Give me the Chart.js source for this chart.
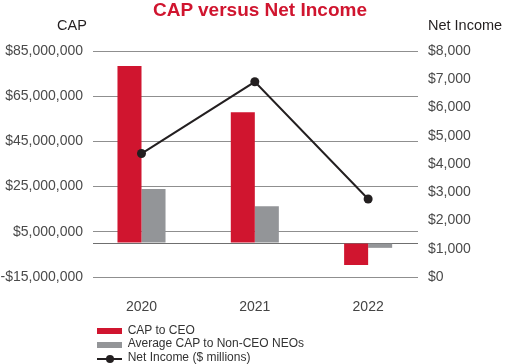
<!DOCTYPE html>
<html>
<head>
<meta charset="utf-8">
<script src="https://cdn.jsdelivr.net/npm/chart.js@4.4.1/dist/chart.umd.min.js"></script>
<style>
  html, body { margin: 0; padding: 0; background: #fff; overflow: hidden; }
  #wrap { position: relative; width: 506px; height: 364px; font-family: "Liberation Sans", Arial, sans-serif; }
  canvas { position: absolute; left: 0; top: 0; }
  .ovl { position: absolute; white-space: nowrap; line-height: 1; }
  #title { left: 10px; width: 500px; top: 0px; text-align: center; color: #d0152f; font-weight: bold; font-size: 19px; }
  #capHead { left: 57px; top: 17.7px; font-size: 14.5px; color: #231f20; }
  #niHead { left: 428px; top: 17.7px; font-size: 14.5px; color: #231f20; }
  #legend { position: absolute; left: 97px; top: 323.5px; font-size: 12px; color: #333; }
  .lrow { position: relative; height: 13.5px; line-height: 13.5px; padding-left: 30.7px; white-space: nowrap; }
  .sw { position: absolute; left: 0; top: 4.5px; width: 25px; height: 6px; }
  .swline { position: absolute; left: 0; top: 7px; width: 25px; height: 2px; }
  .swdot { position: absolute; left: 9px; top: 4px; width: 8px; height: 8px; border-radius: 50%; }
</style>
</head>
<body>
<div id="wrap">
  <canvas id="c" width="506" height="364"></canvas>
  <div class="ovl" id="title">CAP versus Net Income</div>
  <div class="ovl" id="capHead">CAP</div>
  <div class="ovl" id="niHead">Net Income</div>
  <div id="legend"></div>
</div>
<script>
// ---- data ----
const years = ['2020', '2021', '2022'];
const capCEO = [78400000, 57900000, -9700000];
const capNEO = [23900000, 16300000, -2100000];
const netIncome = [4370, 6910, 2760];
const capTicks = [-15000000, 5000000, 25000000, 45000000, 65000000, 85000000];
const niTicks = [0, 1000, 2000, 3000, 4000, 5000, 6000, 7000, 8000];
const seriesLabels = ['CAP to CEO', 'Average CAP to Non-CEO NEOs', 'Net Income ($ millions)'];

// ---- styles ----
const RED = '#d0152f', GRAY = '#939598', BLACK = '#231f20';
const money = v => (v < 0 ? '-$' : '$') + Math.abs(v).toLocaleString('en-US');
const pts = arr => arr.map((v, i) => ({ x: i, y: v }));

const chart = new Chart(document.getElementById('c'), {
  type: 'bar',
  data: {
    datasets: [
      { type: 'line', label: seriesLabels[2], data: pts(netIncome), yAxisID: 'y1', order: 0,
        borderColor: BLACK, backgroundColor: BLACK, borderWidth: 2, pointRadius: 4.5,
        pointBackgroundColor: BLACK, pointBorderWidth: 0, tension: 0 },
      { label: seriesLabels[0], data: pts(capCEO), backgroundColor: RED, yAxisID: 'y', order: 1,
        barPercentage: 1, categoryPercentage: 0.424 },
      { label: seriesLabels[1], data: pts(capNEO), backgroundColor: GRAY, yAxisID: 'y', order: 1,
        barPercentage: 1, categoryPercentage: 0.424 }
    ]
  },
  options: {
    responsive: false,
    animation: false,
    layout: { padding: { top: 51, bottom: 47, left: 0, right: 0 } },
    plugins: { legend: { display: false }, tooltip: { enabled: false }, title: { display: false } },
    scales: {
      x: {
        type: 'linear', min: -0.428, max: 2.44, offset: false,
        grid: { display: false, drawTicks: false, offset: false }, border: { display: false },
        afterBuildTicks: s => { s.ticks = years.map((_, i) => ({ value: i })); },
        afterFit: s => { s.height = 40; },
        ticks: { autoSkip: false, padding: 22, color: '#444', font: { family: 'Liberation Sans', size: 14 },
          callback: v => years[v] }
      },
      y: {
        position: 'left', min: capTicks[0], max: capTicks[capTicks.length - 1],
        afterBuildTicks: s => { s.ticks = capTicks.concat([0]).map(v => ({ value: v })); },
        afterFit: s => { s.width = 93; },
        border: { display: false },
        grid: { drawTicks: false, lineWidth: 1,
          color: c => (c.tick && c.tick.value === 0) ? '#6f6f6f' : '#8f8f8f' },
        ticks: { autoSkip: false, padding: 10, color: '#4a4a4a', font: { family: 'Liberation Sans', size: 14 },
          callback: v => v === 0 ? '' : money(v) }
      },
      y1: {
        position: 'right', min: niTicks[0], max: niTicks[niTicks.length - 1],
        afterBuildTicks: s => { s.ticks = niTicks.map(v => ({ value: v })); },
        afterFit: s => { s.width = 88; },
        border: { display: false },
        grid: { display: false, drawTicks: false },
        ticks: { autoSkip: false, padding: 10, color: '#4a4a4a', font: { family: 'Liberation Sans', size: 14 },
          callback: v => money(v) }
      }
    }
  }
});

// ---- HTML legend built from the datasets ----
const legend = document.getElementById('legend');
[1, 2, 0].forEach(idx => {
  const ds = chart.data.datasets[idx];
  const row = document.createElement('div');
  row.className = 'lrow';
  if (ds.type === 'line') {
    const l = document.createElement('span'); l.className = 'swline'; l.style.background = ds.borderColor; row.appendChild(l);
    const d = document.createElement('span'); d.className = 'swdot'; d.style.background = ds.borderColor; row.appendChild(d);
  } else {
    const s = document.createElement('span'); s.className = 'sw'; s.style.background = ds.backgroundColor; row.appendChild(s);
  }
  row.appendChild(document.createTextNode(ds.label));
  legend.appendChild(row);
});
</script>
</body>
</html>
